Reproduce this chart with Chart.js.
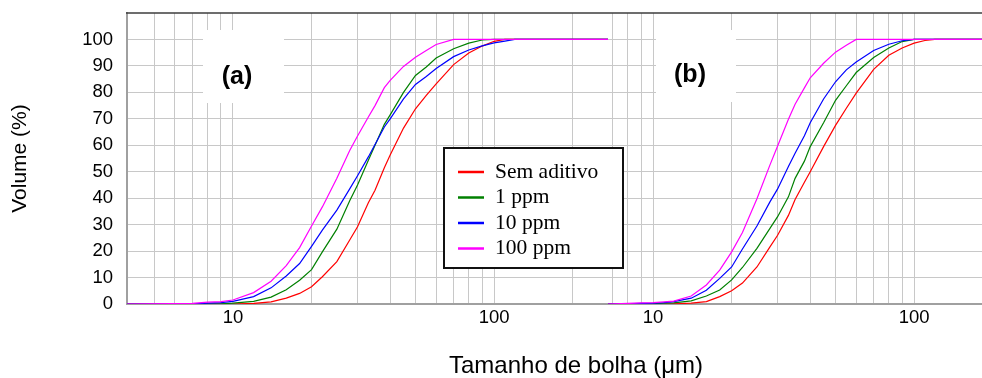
<!DOCTYPE html>
<html>
<head>
<meta charset="utf-8">
<script src="https://cdn.jsdelivr.net/npm/chart.js@4.4.1/dist/chart.umd.min.js"></script>
<style>
html,body{margin:0;padding:0;background:#fff;}
#wrap{width:982px;height:378px;position:relative;}
</style>
</head>
<body>
<div id="wrap"><canvas id="c" width="982" height="378"></canvas></div>
<script>
// ---------- data ----------
const SERIES_NAMES = ['Sem aditivo', '1 ppm', '10 ppm', '100 ppm'];
const SERIES_COLORS = ['#ff0000', '#008000', '#0000ff', '#ff00ff'];

// panel (a): bubble size (µm) and cumulative volume (%)
const SIZES_A = [3.9, 7, 8, 9, 10, 12, 14, 16, 18, 20, 22, 25, 28, 30, 33, 35, 38, 40, 45, 50, 55, 60, 70, 80, 90, 100, 110, 120, 275];
const SEM_ADITIVO_A = [0, 0, 0, 0, 0, 0.2, 0.8, 2.2, 4.0, 6.5, 10.3, 16, 24.2, 29.2, 38.3, 43, 51.5, 56.3, 66.5, 73.8, 78.9, 83.2, 90.5, 94.9, 97.5, 99.3, 100, 100, 100];
const PPM1_A        = [0, 0, 0.1, 0.1, 0.3, 1.0, 2.6, 5.4, 9.0, 13.0, 19.7, 28.3, 39, 45, 54.3, 60, 67.9, 71.5, 80, 86.4, 89.6, 93, 96.5, 98.6, 99.8, 100, 100, 100, 100];
const PPM10_A       = [0, 0.1, 0.3, 0.5, 1.0, 2.8, 6.1, 10.6, 15.3, 21.8, 27.9, 35.5, 43.5, 48.5, 55.6, 60.3, 66.9, 70, 77.5, 83, 86, 89, 93.5, 96, 97.6, 98.7, 99.4, 100, 100];
const PPM100_A      = [0, 0.2, 0.7, 0.9, 1.5, 4.3, 8.6, 14.5, 21.3, 29.5, 36.7, 47.5, 58, 63.5, 70.7, 75, 81.8, 84.5, 89.8, 93.3, 95.8, 98.1, 100, 100, 100, 100, 100, 100, 100];

// panel (b)
const SIZES_B = [6.7, 8, 9, 10, 11, 12, 14, 16, 18, 20, 22, 25, 28, 30, 33, 35, 38, 40, 45, 50, 55, 60, 70, 80, 90, 100, 110, 120, 185];
const SEM_ADITIVO_B = [0, 0, 0, 0, 0, 0.1, 0.3, 0.9, 2.8, 5.0, 7.9, 14, 21.5, 26, 33.5, 39.5, 46, 50, 59.5, 67.5, 74, 79.7, 88.7, 94, 96.8, 98.6, 99.6, 100, 100];
const PPM1_B        = [0, 0.05, 0.1, 0.1, 0.3, 0.4, 1.2, 3.0, 5.3, 9.1, 13.8, 21, 28.5, 33, 40.5, 47.5, 54, 59.5, 68.5, 77, 82.5, 87.5, 93.2, 96.8, 99.2, 100, 100, 100, 100];
const PPM10_B       = [0, 0.1, 0.2, 0.3, 0.5, 0.9, 2.2, 5.2, 9.7, 14, 20.8, 29.5, 38.5, 43.5, 52, 57, 63.6, 68.5, 77.5, 84, 88.5, 91.5, 95.8, 98.2, 99.5, 100, 100, 100, 100];
const PPM100_B      = [0, 0.2, 0.4, 0.5, 0.8, 1.1, 3.0, 7.2, 12.8, 19.7, 27, 39.8, 52.4, 59.7, 69.8, 75.5, 81.7, 85.5, 91, 95.2, 97.8, 100, 100, 100, 100, 100, 100, 100, 100];

// axes
const X_TICKS_A = [5, 6, 7, 8, 9, 10, 20, 30, 40, 50, 60, 70, 80, 90, 100, 200];
const X_TICKS_B = [7, 8, 9, 10, 20, 30, 40, 50, 60, 70, 80, 90, 100];
const X_TICK_LABELS = [10, 100];
const Y_TICKS = [0, 10, 20, 30, 40, 50, 60, 70, 80, 90, 100];
const PANEL_LABELS = ['(a)', '(b)'];
const X_TITLE = 'Tamanho de bolha (\u03BCm)';
const Y_TITLE = 'Volume (%)';

// ---------- build ----------
const SERIES_A = [SEM_ADITIVO_A, PPM1_A, PPM10_A, PPM100_A];
const SERIES_B = [SEM_ADITIVO_B, PPM1_B, PPM10_B, PPM100_B];
const SANS = '"Liberation Sans", Arial, sans-serif';
const SERIF = '"Liberation Serif", "Times New Roman", serif';

function makeSets(sizes, series, axis) {
  return series.map((vals, s) => ({
    label: SERIES_NAMES[s],
    data: sizes.map((x, i) => ({ x: x, y: vals[i] })),
    xAxisID: axis,
    yAxisID: 'y',
    borderColor: SERIES_COLORS[s],
    backgroundColor: SERIES_COLORS[s],
    borderWidth: 1.2,
    pointRadius: 0,
    tension: 0,
    fill: false
  }));
}
// reverse so that the 100 ppm curve is painted on top
const datasets = makeSets(SIZES_A, SERIES_A, 'xa').reverse()
  .concat(makeSets(SIZES_B, SERIES_B, 'xb').reverse());

function xAxis(ticksList, min, max, weight) {
  return {
    type: 'logarithmic',
    position: 'bottom',
    stack: 'xstack',
    stackWeight: weight,
    min: min,
    max: max,
    afterBuildTicks: (s) => { s.ticks = ticksList.map(v => ({ value: v })); },
    afterFit: (s) => { s.height = 30; s.paddingLeft = 0; s.paddingRight = 0; },
    ticks: {
      autoSkip: false,
      maxRotation: 0,
      minRotation: 0,
      padding: 3,
      color: '#000',
      font: { family: SANS, size: 18.5 },
      callback: (v) => X_TICK_LABELS.includes(v) ? String(v) : ''
    },
    grid: { color: '#c8c8c8', lineWidth: 1, drawTicks: false },
    border: { color: '#a0a0a0', width: 2 }
  };
}

const decor = {
  id: 'decor',
  beforeDatasetsDraw(chart, args, o) {
    const ctx = chart.ctx, ca = chart.chartArea;
    ctx.save();
    ctx.strokeStyle = '#3c3c3c';
    ctx.lineWidth = 1.5;
    ctx.beginPath();
    ctx.moveTo(ca.left - 1, ca.top);
    ctx.lineTo(ca.right, ca.top);
    ctx.stroke();
    o.panels.forEach((p, i) => {
      ctx.fillStyle = '#ffffff';
      ctx.fillRect(p.box[0], p.box[1], p.box[2], p.box[3]);
      ctx.fillStyle = '#000';
      ctx.font = 'bold 25px ' + SANS;
      ctx.textAlign = 'center';
      ctx.textBaseline = 'middle';
      ctx.fillText(PANEL_LABELS[i], p.cx, p.cy);
    });
    ctx.restore();
  },
  afterDatasetsDraw(chart, args, o) {
    const ctx = chart.ctx;
    const L = o.legend;
    ctx.save();
    ctx.fillStyle = '#fff';
    ctx.fillRect(L.x, L.y, L.w, L.h);
    ctx.strokeStyle = '#111';
    ctx.lineWidth = 2;
    ctx.strokeRect(L.x, L.y, L.w, L.h);
    ctx.font = '21.5px ' + SERIF;
    ctx.textAlign = 'left';
    ctx.textBaseline = 'middle';
    SERIES_NAMES.forEach((name, i) => {
      const y = L.firstRow + i * L.rowGap;
      ctx.strokeStyle = SERIES_COLORS[i];
      ctx.lineWidth = 2.5;
      ctx.beginPath();
      ctx.moveTo(L.lineX0, y);
      ctx.lineTo(L.lineX1, y);
      ctx.stroke();
      ctx.fillStyle = '#000';
      ctx.fillText(name, L.textX, y);
    });
    ctx.font = '24px ' + SANS;
    ctx.textAlign = 'center';
    ctx.textBaseline = 'middle';
    ctx.fillStyle = '#000';
    ctx.fillText(X_TITLE, o.xTitle.x, o.xTitle.y);
    ctx.restore();
  }
};

new Chart(document.getElementById('c'), {
  type: 'line',
  data: { datasets: datasets },
  plugins: [decor],
  options: {
    responsive: false,
    animation: false,
    devicePixelRatio: 1,
    layout: { padding: { left: 0, top: 13, right: 0, bottom: 44 } },
    plugins: {
      legend: { display: false },
      tooltip: { enabled: false },
      decor: {
        panels: [
          { box: [203, 30, 81, 73], cx: 237, cy: 77 },
          { box: [656, 30, 80, 72], cx: 690, cy: 75 }
        ],
        legend: { x: 444, y: 148, w: 179, h: 120, firstRow: 172, rowGap: 25.5, lineX0: 458, lineX1: 484, textX: 495 },
        xTitle: { x: 576, y: 366 }
      }
    },
    scales: {
      y: {
        type: 'linear',
        position: 'left',
        min: 0,
        max: 110,
        afterBuildTicks: (s) => { s.ticks = Y_TICKS.map(v => ({ value: v })); },
        afterFit: (s) => { s.width = 127; s.paddingTop = 0; s.paddingBottom = 0; },
        ticks: {
          padding: 14,
          color: '#000',
          font: { family: SANS, size: 18.5 }
        },
        grid: { color: '#c8c8c8', lineWidth: 1, drawTicks: false },
        border: { color: '#a0a0a0', width: 2 },
        title: {
          display: true,
          text: Y_TITLE,
          color: '#000',
          font: { family: SANS, size: 21 },
          padding: { top: 7.4, bottom: 0 }
        }
      },
      xa: xAxis(X_TICKS_A, 3.93, 273, 481),
      xb: xAxis(X_TICKS_B, 6.72, 182, 374)
    }
  }
});
</script>
</body>
</html>
